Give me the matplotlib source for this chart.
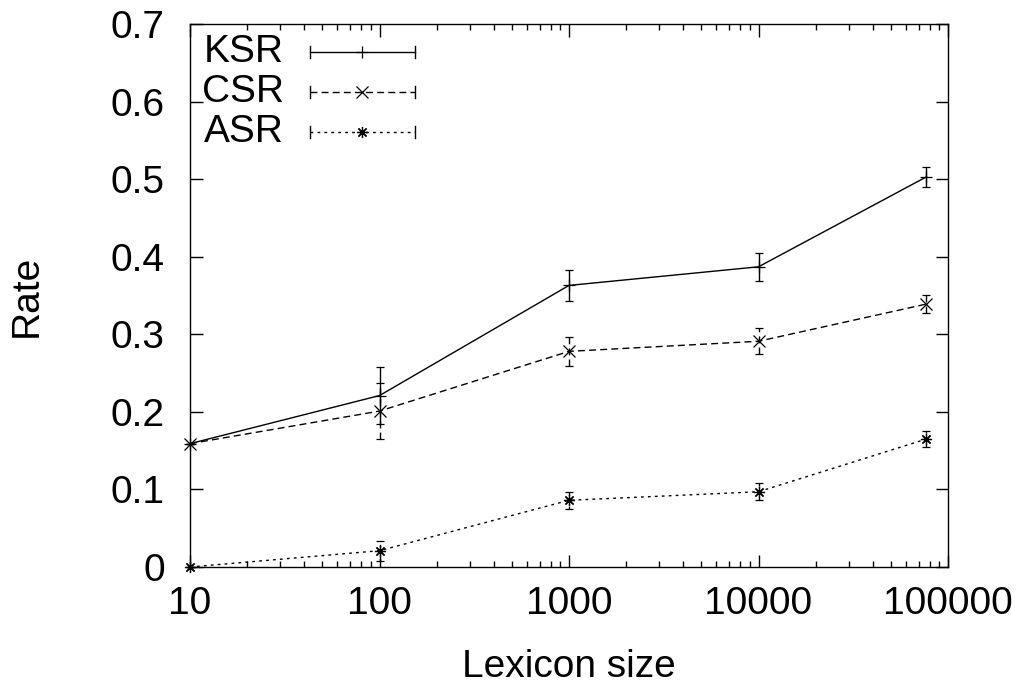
import numpy as np
import matplotlib.pyplot as plt
from matplotlib.ticker import LogLocator, FixedLocator, NullFormatter

plt.rcParams['font.family'] = ['Liberation Sans', 'DejaVu Sans']
plt.rcParams['font.size'] = 28

# ----------------------------------------------------------------------------------------------------------------------
# data
# ----------------------------------------------------------------------------------------------------------------------

lexicon = [10, 100, 1000, 10000, 77000]

ksr = [0.159, 0.221, 0.363, 0.387, 0.503]
ksr_err = [0.0, 0.037, 0.020, 0.018, 0.013]

csr = [0.159, 0.201, 0.278, 0.291, 0.339]
csr_err = [0.0, 0.036, 0.019, 0.017, 0.012]

asr = [0.0, 0.021, 0.086, 0.097, 0.165]
asr_err = [0.0, 0.013, 0.011, 0.011, 0.010]

names = ["KSR", "CSR", "ASR"]
y_ticks = [0, 0.1, 0.2, 0.3, 0.4, 0.5, 0.6, 0.7]
x_ticks = [10, 100, 1000, 10000, 100000]

# ----------------------------------------------------------------------------------------------------------------------
# plot
# ----------------------------------------------------------------------------------------------------------------------

asterisk = (8, 2, 0)
styles = [
    dict(ls='-', marker='+', dashes=None),
    dict(ls='--', marker='x', dashes=(5, 3)),
    dict(ls=':', marker=asterisk, dashes=(2, 3)),
]
series = [(ksr, ksr_err), (csr, csr_err), (asr, asr_err)]

fig = plt.figure(figsize=(10.26, 6.85), dpi=100)
ax = fig.add_axes([190 / 1026, 1 - 567 / 685, 758 / 1026, 543 / 685])

for (vals, errs), st in zip(series, styles):
    eb = ax.errorbar(lexicon, vals, yerr=errs, color='black', lw=1.0, elinewidth=1.0,
                     capsize=3, capthick=1.0, marker=st['marker'], ms=8, mew=0.9,
                     clip_on=False, zorder=3)
    line = eb[0]
    if st['dashes'] is not None:
        line.set_dashes(st['dashes'])
        eb[2][0].set_linestyle((0, st['dashes']))

ax.set_xscale('log')
ax.set_xlim(10, 100000)
ax.set_ylim(0, 0.7)
ax.xaxis.set_major_locator(FixedLocator(x_ticks))
ax.set_xticklabels([str(t) for t in x_ticks])
ax.xaxis.set_minor_locator(LogLocator(base=10, subs=np.arange(2, 10)))
ax.xaxis.set_minor_formatter(NullFormatter())
ax.set_yticks(y_ticks)
ax.set_yticklabels(['0'] + ['%.1f' % t for t in y_ticks[1:]])

ax.tick_params(which='both', direction='in', top=True, right=True, width=1.0)
ax.tick_params(which='major', length=9)
ax.tick_params(which='minor', length=4.5)
ax.tick_params(axis='x', pad=14)
ax.tick_params(axis='y', pad=18)
for sp in ax.spines.values():
    sp.set_linewidth(1.0)

ax.set_xlabel("Lexicon size")
ax.xaxis.label.set_va('center')
ax.xaxis.set_label_coords(0.5, -0.185)
ax.set_ylabel("Rate")
ax.yaxis.label.set_va('center')
ax.yaxis.set_label_coords(-0.215, 0.5)

# gnuplot style key, drawn by hand in axes fraction
key_y = [1 - (52 - 24) / 543, 1 - (92 - 24) / 543, 1 - (132 - 24) / 543]
x0, x1, xm = (310 - 190) / 758, (415 - 190) / 758, (362 - 190) / 758
xt = (284 - 190) / 758
cap = 6 / 543
for name, st, ky in zip(names, styles, key_y):
    ax.text(xt, ky, name, ha='right', va='center', transform=ax.transAxes)
    ln, = ax.plot([x0, x1], [ky, ky], color='black', lw=1.0, transform=ax.transAxes)
    if st['dashes'] is not None:
        ln.set_dashes(st['dashes'])
    for xc in (x0, x1):
        ax.plot([xc, xc], [ky - cap, ky + cap], color='black', lw=1.0, transform=ax.transAxes)
    ax.plot([xm], [ky], color='black', marker=st['marker'], ms=8, mew=0.9, transform=ax.transAxes)

fig.savefig('out.png', dpi=100)
